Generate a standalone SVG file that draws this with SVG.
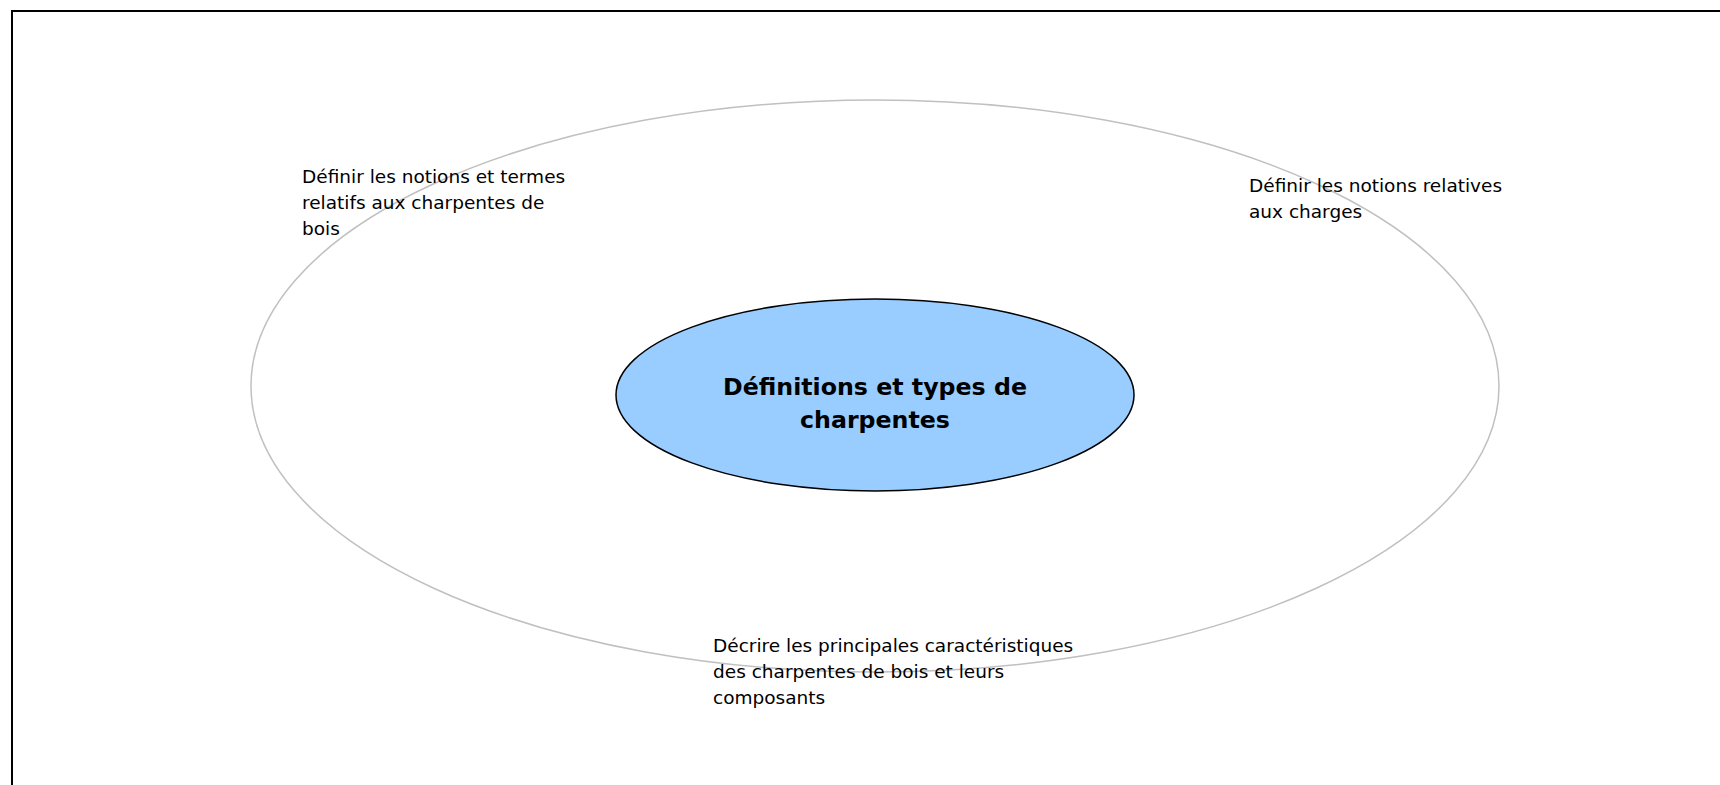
<svg xmlns="http://www.w3.org/2000/svg" width="1720" height="785" viewBox="0 0 1720 785">
<style>
.lbl{font-family:"DejaVu Sans","Liberation Sans",sans-serif;font-size:18.5px;fill:#000}
.ttl{font-family:"DejaVu Sans","Liberation Sans",sans-serif;font-size:23.7px;font-weight:bold;fill:#000}
</style>
<rect width="1720" height="785" fill="#fff"/>
<g id="frame"><path d="M12 785 V11 H1720" fill="none" stroke="#000" stroke-width="2"/></g>
<g id="outer"><ellipse cx="875" cy="386" rx="624" ry="286" fill="none" stroke="#c0c0c0" stroke-width="1.5"/></g>
<g id="center">
<ellipse cx="875" cy="395" rx="259" ry="96" fill="#99ccff" stroke="#000" stroke-width="1.5"/>
<text class="ttl" text-anchor="middle"><tspan x="875" y="395">Définitions et types de</tspan><tspan x="875" y="428">charpentes</tspan></text>
</g>
<g id="n1"><text class="lbl"><tspan x="302" y="183">Définir les notions et termes</tspan><tspan x="302" y="209">relatifs aux charpentes de</tspan><tspan x="302" y="235">bois</tspan></text></g>
<g id="n2"><text class="lbl"><tspan x="1249" y="192">Définir les notions relatives</tspan><tspan x="1249" y="218">aux charges</tspan></text></g>
<g id="n3"><text class="lbl"><tspan x="713" y="652">Décrire les principales caractéristiques</tspan><tspan x="713" y="678">des charpentes de bois et leurs</tspan><tspan x="713" y="704">composants</tspan></text></g>
<g id="connectors"></g>
</svg>
